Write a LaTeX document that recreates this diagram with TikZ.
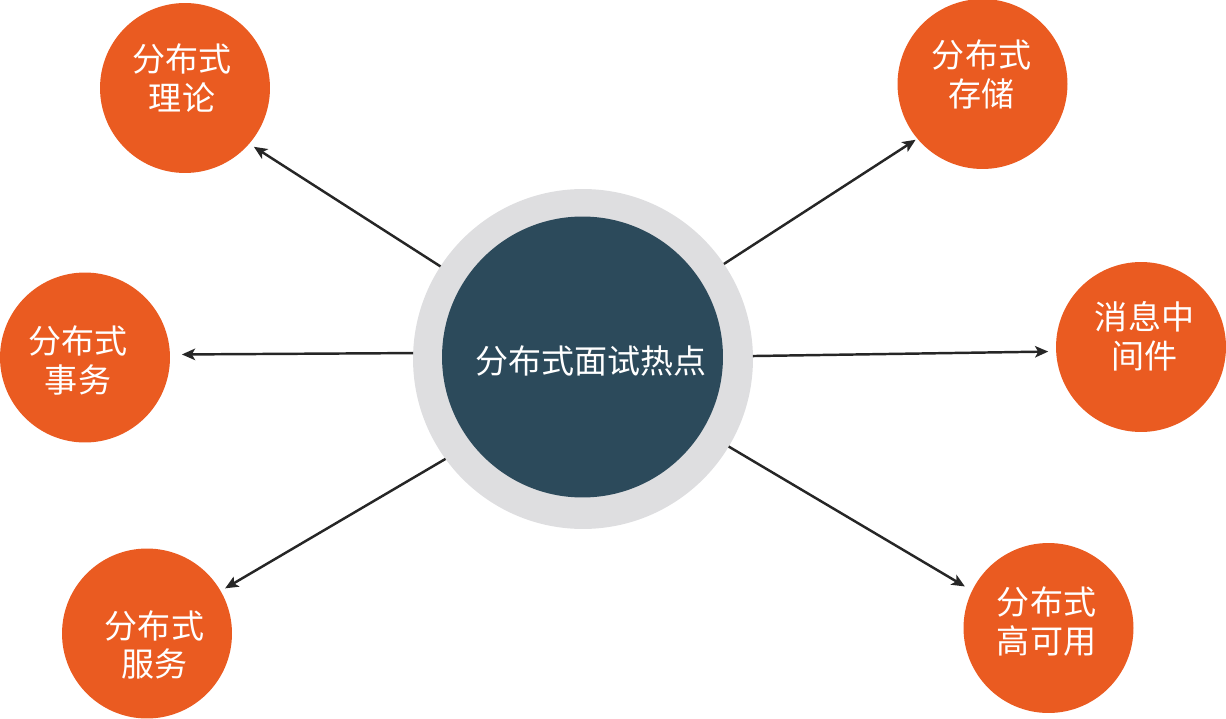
\documentclass[tikz,border=0pt]{standalone}
\usepackage{fontspec}
\newfontfamily\cjk{Noto Sans CJK SC}
\usetikzlibrary{arrows.meta}
\definecolor{hotorange}{HTML}{EA5B21}
\definecolor{hubdark}{HTML}{2C4A5B}
\definecolor{hubring}{HTML}{DEDEE0}
\definecolor{arrowgray}{HTML}{262626}
\begin{document}
\begin{tikzpicture}[x=0.02cm,y=-0.02cm,
  topic/.style={circle,fill=hotorange,minimum size=3.4cm,inner sep=0pt,outer sep=0pt},
  toptext/.style={text=white,align=center,font=\cjk\fontsize{18.8}{22.1}\selectfont,inner sep=0pt},
  link/.style={draw=arrowgray,line width=1.4pt,-{Stealth[length=7.5pt,width=6.5pt,inset=1.8pt]}}]
\path[use as bounding box] (0,0) rectangle (1226,719);
% hub
\node[circle,fill=hubring,minimum size=6.8cm,inner sep=0pt,outer sep=0pt] (hub) at (583,359) {};
\node[circle,fill=hubdark,minimum size=5.62cm,inner sep=0pt,outer sep=0pt] (core) at (582.5,357) {};
\node[toptext] (hubtext) at (591,361) {分布式面试热点};
% topics
\node[topic] (theory) at (185,88) {};
\node[toptext] (theorytext) at (182,78) {分布式\\理论};
\node[topic] (trans) at (85,357.5) {};
\node[toptext] (transtext) at (78,360.5) {分布式\\事务};
\node[topic] (service) at (147,633.5) {};
\node[toptext] (servicetext) at (154.5,645) {分布式\\服务};
\node[topic] (storage) at (982.5,84) {};
\node[toptext] (storagetext) at (981.5,74.5) {分布式\\存储};
\node[topic] (mq) at (1141,347) {};
\node[toptext] (mqtext) at (1144.5,336.5) {消息中\\间件};
\node[topic] (ha) at (1048.5,628) {};
\node[toptext] (hatext) at (1046.5,621.5) {分布式\\高可用};
% links
\draw[link,shorten >=3.2pt] (hub.147.6) -- (theory.-41.4);
\draw[link,shorten >=6.8pt] (hub.178) -- (trans.2.7);
\draw[link,shorten >=3pt] (hub.216.4) -- (service.30.3);
\draw[link,shorten >=1.2pt] (hub.34) -- (storage.220.1);
\draw[link,shorten >=4.5pt] (hub.1.3) -- (mq.183.7);
\draw[link,shorten >=4.8pt] (hub.-31) -- (ha.154.7);
\end{tikzpicture}
\end{document}
